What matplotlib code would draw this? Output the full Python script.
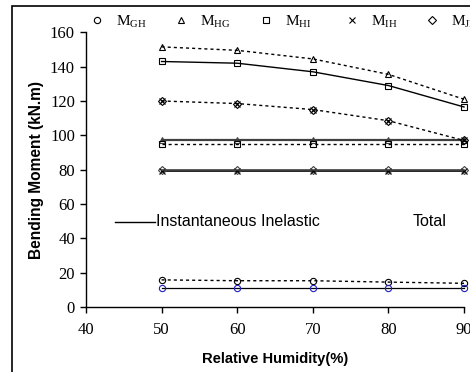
import numpy as np
import matplotlib.pyplot as plt
from matplotlib.lines import Line2D
from matplotlib.patches import Rectangle

plt.rcParams.update({
    'font.family': 'serif',
    'font.serif': ['Liberation Serif', 'DejaVu Serif'],
    'mathtext.fontset': 'custom',
    'mathtext.rm': 'Liberation Serif',
    'font.size': 10,
})

rh = [50, 60, 70, 80, 90]

# Total (dotted) and Instantaneous Inelastic (solid) moments, kN.m
gh_total = [15.8, 15.3, 15.3, 14.5, 13.8]
gh_inst = [11.3, 11.3, 11.3, 11.3, 11.3]
hg_total = [151.5, 149.5, 144.5, 135.5, 121.0]
hg_inst = [97.0, 97.0, 97.0, 97.0, 97.0]
hi_total = [95.0, 95.0, 95.0, 95.0, 95.0]
hi_inst = [143.0, 142.0, 137.0, 129.0, 116.5]
ih_total = [120.0, 118.5, 115.0, 108.5, 97.0]
ih_inst = [79.5, 79.5, 79.5, 79.5, 79.5]
ji_total = [120.0, 118.5, 115.0, 108.5, 97.0]
ji_inst = [80.0, 80.0, 80.0, 80.0, 80.0]

legend_names = ['GH', 'HG', 'HI', 'IH', 'JI']
legend_markers = ['o', '^', 's', 'x', 'D']

fig = plt.figure(figsize=(4.7, 3.72), dpi=100)
ax = fig.add_axes([86 / 470, 1 - 307 / 372, (464 - 86) / 470, (307 - 32.3) / 372])

dot = (0, (2.2, 2.2))
mk = dict(markersize=4.5, markerfacecolor='none', markeredgewidth=0.8)

ax.plot(rh, gh_inst, '-', color='k', lw=0.9, zorder=2)
ax.plot(rh, gh_inst, 'o', color='#2020c0', **mk, zorder=3)
ax.plot(rh, gh_total, 'o', color='k', ls=dot, lw=1, **mk)
ax.plot(rh, hg_total, '^', color='k', ls=dot, lw=1, **mk)
ax.plot(rh, hg_inst, '^', color='#404040', ls='-', lw=1.6, **mk)
ax.plot(rh, hi_inst, 's', color='k', ls='-', lw=1, **mk)
ax.plot(rh, hi_total, 's', color='k', ls=dot, lw=1, **mk)
ax.plot(rh, ih_total, 'x', color='k', ls=dot, lw=1, markersize=5, markeredgewidth=0.9)
ax.plot(rh, ji_total, 'D', color='k', ls='none', markersize=3.8,
        markerfacecolor='none', markeredgewidth=0.8)
ax.plot(rh, ih_inst, 'x', color='k', ls='-', lw=1.2, markersize=5, markeredgewidth=0.9)
ax.plot(rh, ji_inst, 'D', color='#404040', ls='-', lw=1.2, markersize=3.8,
        markerfacecolor='none', markeredgewidth=0.8)

ax.set_xlim(40, 90)
ax.set_ylim(0, 160)
ax.set_xticks([40, 50, 60, 70, 80, 90])
ax.set_yticks(range(0, 161, 20))
for s in ['top', 'right']:
    ax.spines[s].set_visible(False)
ax.spines['left'].set_linewidth(1)
ax.spines['bottom'].set_linewidth(1)
ax.tick_params(direction='out', length=4, width=1, labelsize=12)
ax.tick_params(axis='x', pad=7)
ax.tick_params(axis='y', pad=4)
for ln in ax.lines:
    ln.set_clip_on(False)

ax.set_xlabel('Relative Humidity(%)', family='Liberation Sans', weight='bold',
              fontsize=10.6)
ax.xaxis.set_label_coords(0.5, -0.165)
ax.set_ylabel('Bending Moment (kN.m)', family='Liberation Sans', weight='bold',
              fontsize=11.2, va='center')
ax.yaxis.set_label_coords(-0.13, 0.5)

# marker legend across the top
leg_x = [97, 181, 266, 352, 432]
for x, name, m in zip(leg_x, legend_names, legend_markers):
    ms = 3.8 if m == 'D' else 4.5
    fig.add_artist(Line2D([x / 470], [1 - 20 / 372], marker=m, color='k', ls='none',
                          markersize=ms, markerfacecolor='none', markeredgewidth=0.8))
    fig.text((x + 19) / 470, 1 - 22 / 372, r'M$_{\mathrm{%s}}$' % name,
             fontsize=11, va='center', ha='left')

# line-style legend
fig.add_artist(Line2D([115 / 470, 155 / 470], [1 - 222 / 372, 1 - 222 / 372],
                      color='k', lw=1))
fig.text(156 / 470, 1 - 222 / 372, 'Instantaneous Inelastic', family='Liberation Sans',
         fontsize=11.5, va='center', ha='left')
fig.text(413 / 470, 1 - 222 / 372, 'Total', family='Liberation Sans',
         fontsize=11.5, va='center', ha='left')

# outer frame (cropped by the image edge)
fig.add_artist(Rectangle((12 / 470, -0.2), 1.2, (1 - 6 / 372) + 0.2,
                         transform=fig.transFigure, fill=False, lw=1.2, ec='k'))

fig.savefig('out.png', dpi=100)
